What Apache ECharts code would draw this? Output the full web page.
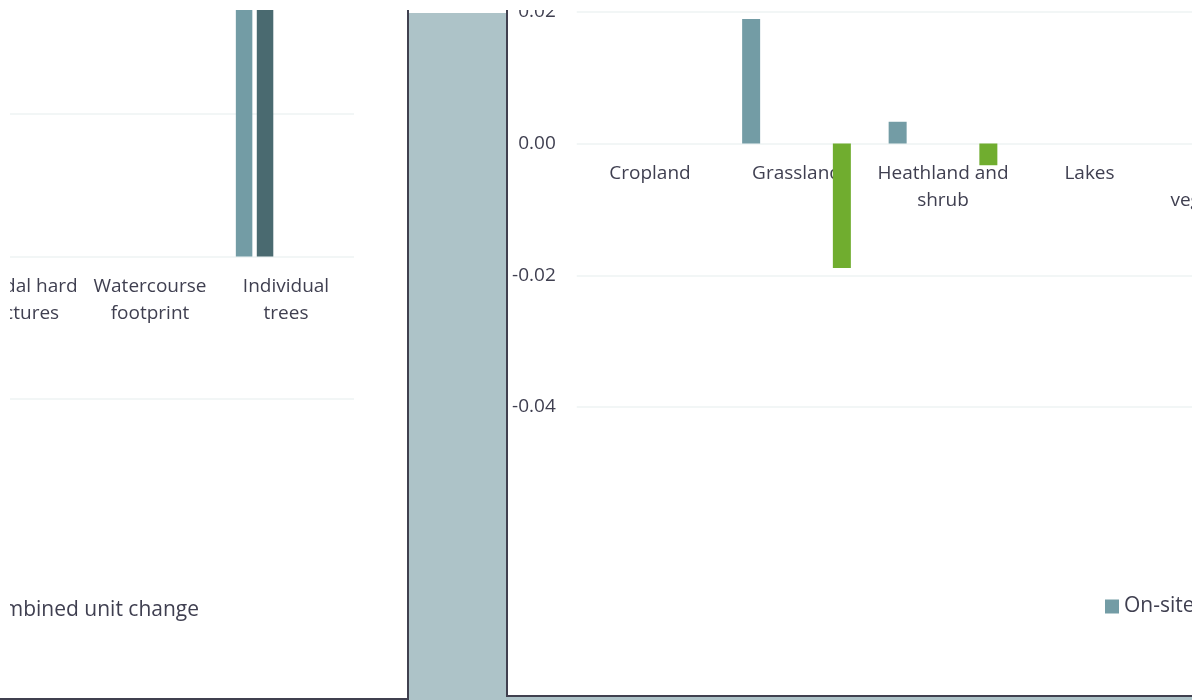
<!DOCTYPE html>
<html>
<head>
<meta charset="utf-8">
<script src="https://cdn.jsdelivr.net/npm/echarts@6/dist/echarts.min.js"></script>
<style>html,body{margin:0;padding:0;background:#fff}#c{width:1202px;height:700px}</style>
</head>
<body>
<div id="c"></div>
<script>
// ---- data ----
const seriesNames = ['On-site baseline', 'On-site post-intervention', 'Off-site baseline', 'Off-site post-intervention', 'Combined unit change'];

// left chart (partly visible)
const leftCategories = ['Intertidal hard\nstructures', 'Watercourse\nfootprint', 'Individual\ntrees'];
const leftOnSiteBaseline = [0, 0, 1.9];
const leftOnSitePost = [0, 0, 1.9];
const leftOffSiteBaseline = [0, 0, 0];
const leftOffSitePost = [0, 0, 0];
const leftCombined = [0, 0, 0];
const leftTicks = [-1, 0, 1, 2];

// right chart
const rightCategories = ['Cropland', 'Grassland', 'Heathland and\nshrub', 'Lakes', 'Sparsely\nvegetated land', 'Urban'];
const rightOnSiteBaseline = [0, 0.0189, 0.0033, 0, 0, 0];
const rightOnSitePost = [0, 0, 0, 0, 0, 0];
const rightOffSiteBaseline = [0, 0, 0, 0, 0, 0];
const rightOffSitePost = [0, 0, 0, 0, 0, 0];
const rightCombined = [0, -0.0189, -0.0033, 0, 0, 0];
const rightTicks = [-0.04, -0.02, 0.00, 0.02, 0.04];

// ---- styling ----
const colors = ['#739ca5', '#4a6a70', '#a9c3c9', '#2f4a4f', '#70ad2f'];
const txt = '#3f3f50';
const font = 'Open Sans';
const gridColor = '#eef3f3';
const frame = '#40404f';
const panel = '#adc3c8';

const leftData = [leftOnSiteBaseline, leftOnSitePost, leftOffSiteBaseline, leftOffSitePost, leftCombined];
const rightData = [rightOnSiteBaseline, rightOnSitePost, rightOffSiteBaseline, rightOffSitePost, rightCombined];

const series = [];
seriesNames.forEach((n, i) => {
  series.push({
    name: n, type: 'bar', xAxisIndex: 0, yAxisIndex: 0,
    data: leftData[i], barWidth: 16.5, barGap: '27%',
    itemStyle: { color: colors[i] }, emphasis: { disabled: true }
  });
});
seriesNames.forEach((n, i) => {
  series.push({
    name: n, type: 'bar', xAxisIndex: 1, yAxisIndex: 1,
    data: rightData[i], barWidth: 18, barGap: '26%',
    itemStyle: { color: colors[i] }, emphasis: { disabled: true }
  });
});

// x axis placed on the zero line of its value axis (offset from grid bottom)
const catAxis = (idx, cats, zeroOffset) => ({
  type: 'category', gridIndex: idx, data: cats, position: 'bottom', offset: zeroOffset,
  axisLine: { show: false, onZero: false },
  axisTick: { show: false },
  axisLabel: { interval: 0, color: txt, fontFamily: font, fontSize: 19, lineHeight: 26.5, margin: 17, hideOverlap: false },
  splitLine: { show: false }
});

const valAxis = (idx, ticks, fmt) => ({
  type: 'value', gridIndex: idx,
  min: ticks[0], max: ticks[ticks.length - 1], interval: ticks[1] - ticks[0],
  axisLine: { show: false }, axisTick: { show: false },
  axisLabel: { color: txt, fontFamily: font, fontSize: 19, margin: 21, formatter: fmt },
  splitLine: { lineStyle: { color: gridColor, width: 1.5 } }
});

const chart = echarts.init(document.getElementById('c'), null, { renderer: 'canvas' });
chart.setOption({
  backgroundColor: '#ffffff',
  animation: false,
  grid: [
    { left: -54, top: -28.5, width: 408, height: 427.5, containLabel: false, outerBoundsMode: 'none' },
    { left: 576.75, top: -120, width: 879, height: 527, containLabel: false, outerBoundsMode: 'none' }
  ],
  xAxis: [catAxis(0, leftCategories, -142.5), catAxis(1, rightCategories, -263.5)],
  yAxis: [
    valAxis(0, leftTicks, v => v.toFixed(1)),
    valAxis(1, rightTicks, v => v.toFixed(2))
  ],
  legend: [
    {
      data: ['Combined unit change'], right: 1003, top: 600, padding: 0,
      icon: 'rect', itemWidth: 14, itemHeight: 14, itemGap: 20,
      textStyle: { color: txt, fontFamily: font, fontSize: 21 }
    },
    {
      data: seriesNames, left: 1105, top: 596, width: 3000, padding: 0,
      icon: 'rect', itemWidth: 14, itemHeight: 14, itemGap: 20,
      textStyle: { color: txt, fontFamily: font, fontSize: 21 }
    }
  ],
  series: series,
  graphic: [
    // spreadsheet panel between the two charts
    { type: 'rect', z: 100, shape: { x: 409, y: 13, width: 98, height: 690 }, style: { fill: panel } },
    { type: 'rect', z: 100, shape: { x: 507, y: 697, width: 690, height: 6 }, style: { fill: panel } },
    // chart frames
    { type: 'line', z: 101, shape: { x1: 408, y1: 10, x2: 408, y2: 700 }, style: { stroke: frame, lineWidth: 2 } },
    { type: 'line', z: 101, shape: { x1: 0, y1: 699, x2: 408, y2: 699 }, style: { stroke: frame, lineWidth: 2 } },
    { type: 'line', z: 101, shape: { x1: 507, y1: 10, x2: 507, y2: 697 }, style: { stroke: frame, lineWidth: 2 } },
    { type: 'line', z: 101, shape: { x1: 507, y1: 696, x2: 1192, y2: 696 }, style: { stroke: frame, lineWidth: 2 } },
    // white margins of the screenshot
    { type: 'rect', z: 110, shape: { x: 0, y: 0, width: 1202, height: 10 }, style: { fill: '#ffffff' } },
    { type: 'rect', z: 110, shape: { x: 0, y: 0, width: 10, height: 698 }, style: { fill: '#ffffff' } },
    { type: 'rect', z: 110, shape: { x: 1192, y: 0, width: 10, height: 700 }, style: { fill: '#ffffff' } }
  ]
});
</script>
</body>
</html>
